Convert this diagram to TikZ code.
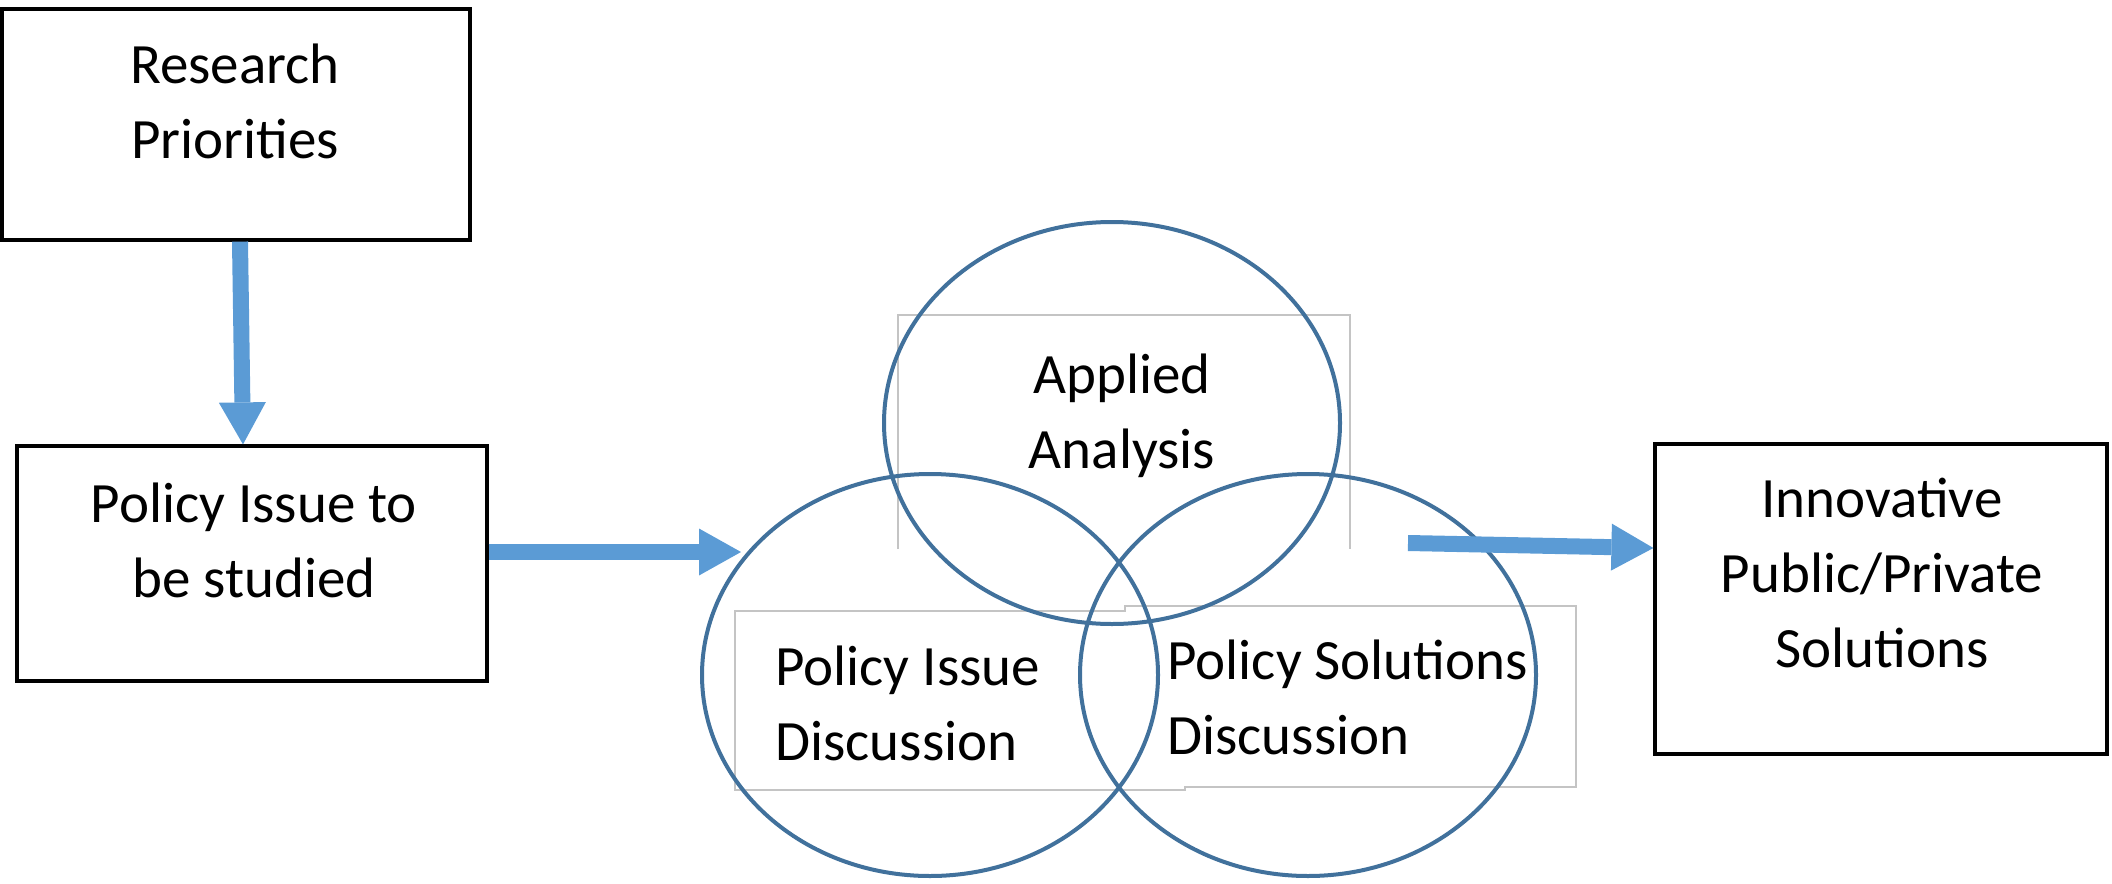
\documentclass[tikz,border=0pt]{standalone}
\usepackage{fontspec}
\setmainfont{Carlito}
\usetikzlibrary{shapes.geometric,arrows.meta}
\definecolor{arrowblue}{HTML}{5B9BD5}
\definecolor{circleblue}{HTML}{41719C}
\definecolor{boxgray}{HTML}{C4C4C4}
\begin{document}
\begin{tikzpicture}[x=0.5pt,y=-0.5pt,
  every node/.style={font=\fontsize{28.5}{37.5}\selectfont},
  blackbox/.style={draw=black,line width=1.6pt,inner sep=0pt},
  circ/.style={ellipse,draw=circleblue,line width=2pt,inner sep=0pt,
    minimum width=228pt,minimum height=201pt},
  lbl/.style={inner sep=0pt,align=center},
  lbll/.style={inner sep=0pt,align=left,anchor=west},
  tbox/.style={draw=boxgray,line width=0.7pt},
  flow/.style={draw=arrowblue,line width=8pt,
    -{Triangle[width=23.5pt,length=21pt,line width=0pt]}}]
\useasboundingbox (0,0) rectangle (2112,883);

% light gray text frames
\draw[tbox] (898,549) -- (898,315) -- (1350,315) -- (1350,549);
\draw[tbox] (735,611) -- (1125,611) -- (1125,606) -- (1576,606) -- (1576,787)
  -- (1185,787) -- (1185,790) -- (735,790) -- cycle;

% boxes
\node[blackbox,minimum width=234pt,minimum height=115.5pt] (res) at (236,124.5) {};
\node[blackbox,minimum width=235pt,minimum height=117.5pt] (pol) at (252,563.5) {};
\node[blackbox,minimum width=226pt,minimum height=155pt] (inn) at (1881,599) {};

% circles
\node[circ] (aa) at (1112,423) {};
\node[circ] (pi) at (930,675) {};
\node[circ] (ps) at (1308,675) {};

% texts
\node[lbl] (restext) at (235,101) {Research\\Priorities};
\node[lbl] (poltext) at (254,540) {Policy Issue to\\be studied};
\node[lbl] (inntext) at (1882,573) {Innovative\\Public/Private\\Solutions};
\node[lbl] (aatext) at (1122,416) {Applied\\Analysis};
\node[lbll] (pitext) at (775,703) {Policy Issue\\Discussion};
\node[lbll] (pstext) at (1167,697) {Policy Solutions\\Discussion};

% connectors
\coordinate (a1end) at (741,552);
\coordinate (a2start) at (1408,543);
\draw[flow] ([xshift=2pt]res.south) -- ([xshift=-4.5pt]pol.north);
\draw[flow] ([yshift=5.75pt]pol.east) -- (a1end);
\draw[flow] (a2start) -- ([yshift=25.5pt]inn.west);
\end{tikzpicture}
\end{document}
